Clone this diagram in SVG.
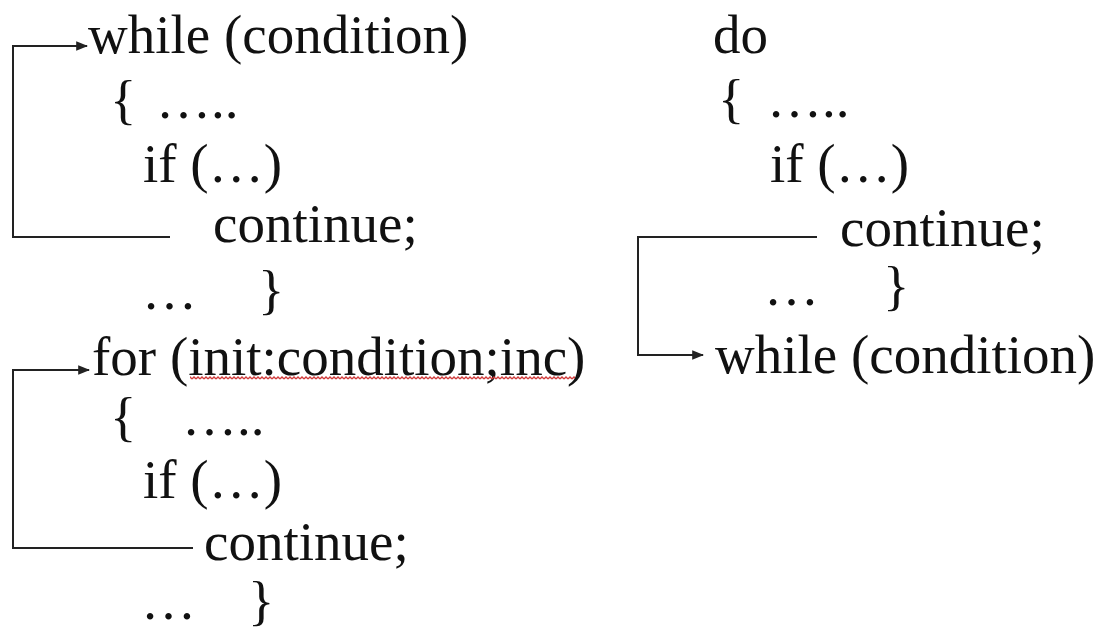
<svg xmlns="http://www.w3.org/2000/svg" width="1102" height="637" viewBox="0 0 1102 637">
<defs>
<style>
text{font-family:"Liberation Serif","Times New Roman",serif;font-size:55px;fill:#111}
.c{fill:none;stroke:#222;stroke-width:2}
</style>
<marker id="ah" viewBox="0 0 10 10" refX="9" refY="5" markerWidth="6" markerHeight="6" orient="auto" markerUnits="strokeWidth">
<path d="M0,1 L10,5 L0,9 z" fill="#222"/>
</marker>
<pattern id="wavy" x="0" y="376" width="4" height="4" patternUnits="userSpaceOnUse">
<path d="M0,3 L2,1 L4,3" fill="none" stroke="#d03a3a" stroke-width="1.3"/>
</pattern>
</defs>
<rect width="1102" height="637" fill="#fff"/>
<g id="connectors">
<path class="c" d="M170,237 H13 V46 H87" marker-end="url(#ah)"/>
<path class="c" d="M193,548 H13 V370 H89" marker-end="url(#ah)"/>
<path class="c" d="M817,237 H638 V355 H703" marker-end="url(#ah)"/>
</g>
<g id="while-loop">
<text x="88" y="53">while (condition)</text>
<text x="110" y="118">{</text>
<text x="156" y="118">…..</text>
<text x="143" y="182">if (…)</text>
<text x="213" y="242">continue;</text>
<text x="142" y="309">…</text>
<text x="258" y="308">}</text>
</g>
<g id="for-loop">
<text x="92" y="375">for (init:condition;inc)</text>
<rect x="190" y="376" width="385" height="4" fill="url(#wavy)"/>
<text x="110" y="435">{</text>
<text x="182" y="435">…..</text>
<text x="143" y="498">if (…)</text>
<text x="204" y="560">continue;</text>
<text x="141" y="619">…</text>
<text x="248" y="619">}</text>
</g>
<g id="do-while-loop">
<text x="713" y="53">do</text>
<text x="718" y="117">{</text>
<text x="767" y="117">…..</text>
<text x="770" y="182">if (…)</text>
<text x="840" y="246">continue;</text>
<text x="764" y="305">…</text>
<text x="883" y="304">}</text>
<text x="715" y="373">while (condition)</text>
</g>
</svg>
